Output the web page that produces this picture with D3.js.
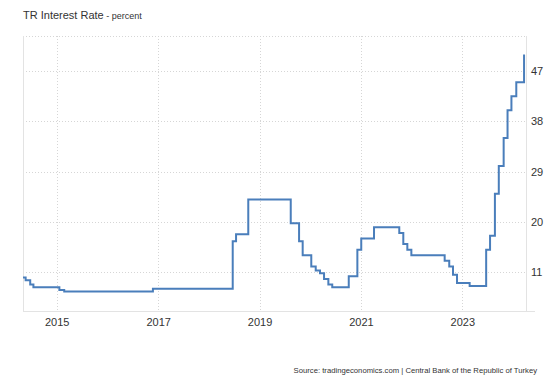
<!DOCTYPE html>
<html>
<head>
<meta charset="utf-8">
<script src="https://cdn.jsdelivr.net/npm/d3@7"></script>
<style>
  body { margin: 0; background: #fff; }
  svg { display: block; font-family: 'Liberation Sans', Arial, sans-serif; }
</style>
</head>
<body>
<div id="chart"></div>
<script>
// policy rate changes (date the new level starts)
const rateDates = [
  '2014-05-03', '2014-05-22', '2014-06-24', '2014-07-17', '2015-01-20', '2015-02-24',
  '2016-11-24', '2018-06-22', '2018-07-16', '2018-10-12', '2019-08-14', '2019-10-13',
  '2019-11-08', '2020-01-09', '2020-02-10', '2020-03-12', '2020-04-10', '2020-05-11',
  '2020-06-08', '2020-10-05', '2020-12-06', '2021-01-03', '2021-04-05', '2021-10-04',
  '2021-11-02', '2021-12-01', '2021-12-30', '2022-08-27', '2022-09-29', '2022-10-26',
  '2022-11-24', '2023-02-23', '2023-06-22', '2023-07-20', '2023-08-24', '2023-09-21',
  '2023-10-26', '2023-11-23', '2023-12-21', '2024-01-25', '2024-03-21'
];
const rateValues = [
  10, 9.5, 8.75, 8.25, 7.75, 7.5,
  8, 16.5, 17.75, 24, 19.75, 16.5,
  14, 12, 11.25, 10.75, 9.75, 8.75,
  8.25, 10.25, 15, 17, 19, 18,
  16, 15, 14, 13, 12, 10.5,
  9, 8.5, 15, 17.5, 25, 30,
  35, 40, 42.5, 45, 50
];
const xTickYears = [2015, 2017, 2019, 2021, 2023];
const yTicks = [11, 20, 29, 38, 47];

const width = 556, height = 382;
const plot = { left: 23, right: 526, top: 36, bottom: 311 };
const parseTime = d3.timeParse('%Y-%m-%d');

const data = rateDates.map((d, i) => ({ date: parseTime(d), value: rateValues[i] }));

const x = d3.scaleTime()
  .domain([parseTime('2014-05-03'), parseTime('2024-04-04')])
  .range([plot.left, plot.right]);
const y = d3.scaleLinear()
  .domain([4, 53.3])
  .range([plot.bottom, plot.top]);

const svg = d3.select('#chart').append('svg')
  .attr('width', width)
  .attr('height', height);

// title
const title = svg.append('text')
  .attr('x', 23)
  .attr('y', 18.5)
  .attr('fill', '#333');
title.append('tspan').attr('font-size', 11).text('TR Interest Rate');
title.append('tspan').attr('font-size', 9).text(' - percent');

// grid
const grid = svg.append('g')
  .attr('stroke', '#d6d6d6')
  .attr('stroke-dasharray', '1,2');

grid.selectAll('.hgrid')
  .data(yTicks.concat([y.domain()[1]]))
  .enter().append('line')
  .attr('x1', plot.left).attr('x2', plot.right)
  .attr('y1', d => Math.round(y(d)) + 0.5)
  .attr('y2', d => Math.round(y(d)) + 0.5);

grid.selectAll('.vgrid')
  .data(xTickYears)
  .enter().append('line')
  .attr('y1', plot.top).attr('y2', plot.bottom)
  .attr('x1', d => Math.round(x(new Date(d, 0, 1))) + 0.5)
  .attr('x2', d => Math.round(x(new Date(d, 0, 1))) + 0.5);

// frame
const frame = svg.append('g').attr('stroke', '#e3e3e3');
frame.append('line')
  .attr('x1', plot.left + 0.5).attr('x2', plot.left + 0.5)
  .attr('y1', plot.top).attr('y2', plot.bottom);
frame.append('line')
  .attr('x1', plot.right + 0.5).attr('x2', plot.right + 0.5)
  .attr('y1', plot.top).attr('y2', plot.bottom);
frame.append('line')
  .attr('x1', plot.left).attr('x2', 535)
  .attr('y1', plot.bottom + 0.5).attr('y2', plot.bottom + 0.5);

// x axis
const xAxis = svg.append('g')
  .attr('transform', 'translate(0,' + plot.bottom + ')')
  .call(d3.axisBottom(x)
    .tickValues(xTickYears.map(yr => new Date(yr, 0, 1)))
    .tickFormat(d3.timeFormat('%Y'))
    .tickSize(0)
    .tickPadding(7));
xAxis.select('.domain').remove();
xAxis.selectAll('text')
  .attr('fill', '#333')
  .style('font-size', '11px')
  .style('font-family', "'Liberation Sans', Arial, sans-serif");

// y axis on the right
const yAxis = svg.append('g')
  .attr('transform', 'translate(' + plot.right + ',0)')
  .call(d3.axisRight(y)
    .tickValues(yTicks)
    .tickSize(0)
    .tickPadding(5));
yAxis.select('.domain').remove();
yAxis.selectAll('text')
  .attr('fill', '#333')
  .style('font-size', '11px')
  .style('font-family', "'Liberation Sans', Arial, sans-serif");

// rate line
const line = d3.line()
  .curve(d3.curveStepAfter)
  .x(d => x(d.date))
  .y(d => y(d.value));

svg.append('path')
  .datum(data)
  .attr('fill', 'none')
  .attr('stroke', '#4a7ebb')
  .attr('stroke-width', 2)
  .attr('d', line);

// source
svg.append('text')
  .attr('x', 537)
  .attr('y', 373)
  .attr('text-anchor', 'end')
  .attr('font-size', 7.7)
  .attr('fill', '#333')
  .text('Source: tradingeconomics.com | Central Bank of the Republic of Turkey');
</script>
</body>
</html>
